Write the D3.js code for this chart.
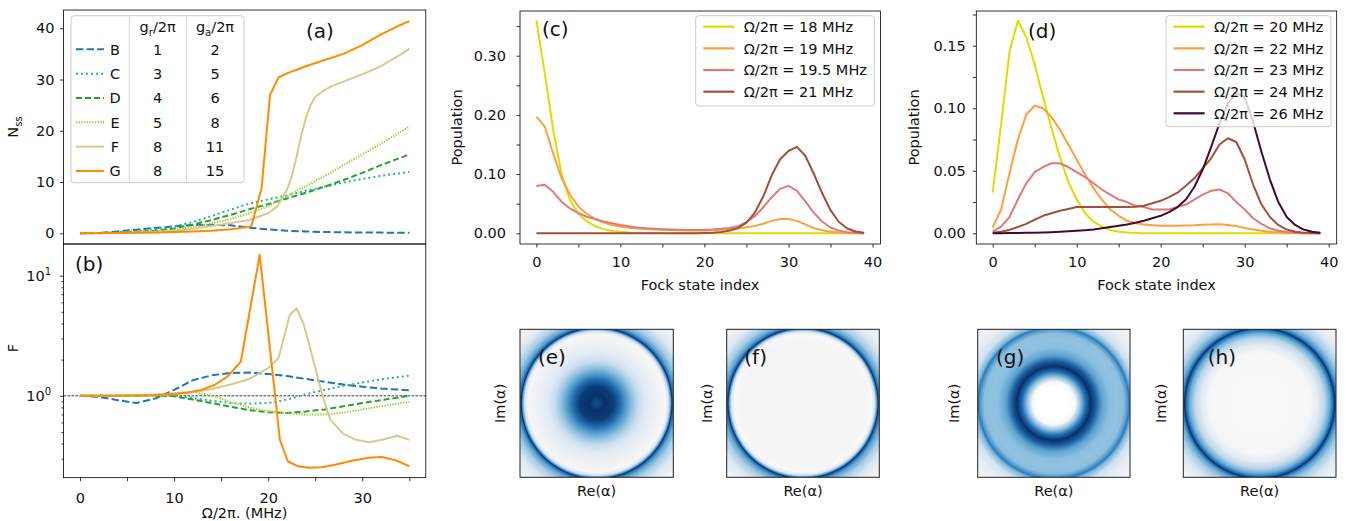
<!DOCTYPE html>
<html>
<head>
<meta charset="utf-8">
<script src="https://cdn.jsdelivr.net/npm/d3@7"></script>
<style>
    body { margin: 0; background: #fff; }
    svg { font-family: "DejaVu Sans", sans-serif; }
</style>
</head>
<body>
<svg id="fig" width="1346" height="521"></svg>
<script>
(function () {
    'use strict';

    // ---- data -------------------------------------------------------
    const seriesNames = ['B', 'C', 'D', 'E', 'F', 'G'];
    const grValues = [1, 3, 4, 5, 8, 8];
    const gaValues = [2, 5, 6, 8, 11, 15];

    // shared drive grid for B..E
    const omegaGrid = [0, 2, 4, 6, 8, 10, 12, 14, 16, 18, 20, 22, 24, 26, 28, 30, 32, 35];

    const nssB = [0, 0.08, 0.35, 0.7, 1.05, 1.35, 1.6, 1.65, 1.55, 1.1, 0.75, 0.5, 0.35, 0.25, 0.2, 0.15, 0.13, 0.12];
    const nssC = [0, 0.05, 0.15, 0.4, 0.8, 1.35, 2.2, 3.4, 4.6, 5.8, 6.6, 7.4, 8.3, 9.1, 9.9, 10.6, 11.2, 12.0];
    const nssD = [0, 0.03, 0.1, 0.25, 0.5, 0.95, 1.7, 2.6, 3.6, 4.7, 5.7, 6.8, 7.9, 9.1, 10.4, 11.8, 13.3, 15.4];
    const nssE = [0, 0.02, 0.06, 0.15, 0.35, 0.7, 1.2, 1.9, 2.8, 3.9, 5.3, 7.2, 9.2, 11.2, 13.3, 15.4, 17.5, 20.8];
    const omegaNssF = [0, 4, 8, 10, 12, 14, 16, 18, 20, 21, 22, 22.5, 23, 23.5, 24, 24.5, 25, 26, 27, 28, 30, 32, 34, 35];
    const nssF = [0, 0.05, 0.25, 0.5, 0.9, 1.4, 2.0, 2.6, 3.9, 5.3, 8.5, 11.0, 14.8, 19.0, 22.5, 25.0, 26.6, 28.0, 28.9, 29.6, 31.0, 32.6, 34.8, 36.0];
    const omegaNssG = [0, 4, 8, 10, 12, 14, 16, 17, 18.2, 19.3, 20.2, 21.1, 22, 24, 26, 28, 30, 32, 34, 35];
    const nssG = [0.05, 0.08, 0.15, 0.25, 0.35, 0.5, 0.8, 1.05, 1.35, 8.8, 27.0, 30.4, 31.2, 32.6, 33.8, 35.0, 36.7, 38.8, 40.6, 41.4];

    const fanoB = [1.0, 0.98, 0.92, 0.87, 0.95, 1.12, 1.35, 1.48, 1.55, 1.56, 1.52, 1.46, 1.38, 1.31, 1.24, 1.19, 1.15, 1.11];
    const fanoC = [1, 1, 1, 1.01, 1.01, 1.0, 0.96, 0.91, 0.87, 0.86, 0.87, 0.93, 1.03, 1.12, 1.21, 1.29, 1.37, 1.47];
    const fanoD = [1, 1, 1, 1, 1.01, 0.99, 0.93, 0.87, 0.81, 0.76, 0.73, 0.72, 0.74, 0.77, 0.82, 0.87, 0.92, 1.0];
    const fanoE = [1, 1, 1, 1.01, 1.03, 1.05, 1.07, 1.01, 0.89, 0.8, 0.745, 0.715, 0.70, 0.70, 0.725, 0.77, 0.82, 0.89];
    const omegaFanoF = [0, 4, 8, 10, 12, 14, 16, 18, 20, 21.1, 22.3, 23, 23.75, 24.6, 25.7, 26.6, 27.9, 29.3, 30.7, 32.1, 33.7, 35];
    const fanoF = [1, 1, 1.01, 1.03, 1.07, 1.14, 1.24, 1.38, 1.70, 2.06, 4.7, 5.35, 4.0, 2.26, 1.05, 0.63, 0.49, 0.43, 0.41, 0.43, 0.465, 0.43];
    const omegaFanoG = [0, 4, 8, 10, 11.4, 12.9, 14.3, 15.7, 17.1, 19.1, 21.25, 22.1, 23.2, 24.3, 25.7, 27.1, 28.9, 30.7, 32.1, 33.6, 35];
    const fanoG = [1, 1, 1.01, 1.04, 1.065, 1.12, 1.23, 1.45, 1.93, 14.9, 0.43, 0.284, 0.259, 0.252, 0.254, 0.267, 0.288, 0.305, 0.309, 0.29, 0.259];

    const fockIndex = d3.range(40);

    const omegaC = [18, 19, 19.5, 21];
    const popC18 = [0.360, 0.270, 0.175, 0.100, 0.056, 0.033, 0.020, 0.012, 0.007, 0.004,
        0.0025, 0.0015, 0.0009, 0.0006, 0.0004, 0.0003, 0.0002, 0.0001, 0.0001, 0.0001,
        0, 0, 0, 0, 0, 0, 0, 0, 0, 0,
        0, 0, 0, 0, 0, 0, 0, 0, 0, 0];
    const popC19 = [0.197, 0.180, 0.135, 0.093, 0.065, 0.045, 0.033, 0.024, 0.018, 0.014,
        0.011, 0.0095, 0.0082, 0.0072, 0.0065, 0.0060, 0.0055, 0.0050, 0.0048, 0.0047,
        0.0048, 0.0052, 0.0058, 0.0068, 0.0082, 0.0100, 0.0125, 0.016, 0.021, 0.024,
        0.024, 0.021, 0.015, 0.009, 0.005, 0.0025, 0.0012, 0.0005, 0.0002, 0.0001];
    const popC195 = [0.080, 0.082, 0.070, 0.053, 0.042, 0.034, 0.028, 0.024, 0.020, 0.017,
        0.014, 0.012, 0.0098, 0.0085, 0.0075, 0.0068, 0.0062, 0.0058, 0.0056, 0.0056,
        0.0058, 0.0064, 0.0075, 0.0090, 0.012, 0.019, 0.029, 0.044, 0.061, 0.075,
        0.080, 0.072, 0.054, 0.035, 0.020, 0.0098, 0.0045, 0.0018, 0.0007, 0.0002];
    const popC21 = [0, 0, 0, 0, 0, 0, 0, 0, 0, 0,
        0, 0, 0, 0, 0, 0, 0, 0, 0, 0,
        0.0005, 0.001, 0.002, 0.0045, 0.009, 0.018, 0.035, 0.062, 0.098, 0.125,
        0.139, 0.146, 0.131, 0.101, 0.068, 0.039, 0.019, 0.008, 0.003, 0.001];

    const omegaD = [20, 22, 23, 24, 26];
    const popD20 = [0.0325, 0.087, 0.145, 0.170, 0.157, 0.135, 0.109, 0.084, 0.061, 0.041,
        0.027, 0.016, 0.0093, 0.0053, 0.0027, 0.0013, 0.0006, 0.0003, 0.0001, 0.0001,
        0, 0, 0, 0, 0, 0, 0, 0, 0, 0,
        0, 0, 0, 0, 0, 0, 0, 0, 0, 0];
    const popD22 = [0.0045, 0.019, 0.048, 0.075, 0.095, 0.102, 0.100, 0.093, 0.083, 0.071,
        0.059, 0.047, 0.036, 0.027, 0.019, 0.014, 0.010, 0.008, 0.007, 0.0065,
        0.006, 0.006, 0.006, 0.0062, 0.0064, 0.0068, 0.0070, 0.0072, 0.0067, 0.0058,
        0.0043, 0.003, 0.002, 0.0012, 0.0007, 0.0004, 0.0002, 0.0001, 0.0001, 0];
    const popD23 = [0.0013, 0.0053, 0.013, 0.027, 0.040, 0.049, 0.053, 0.056, 0.056, 0.053,
        0.049, 0.045, 0.040, 0.035, 0.031, 0.027, 0.025, 0.022, 0.021, 0.019,
        0.019, 0.019, 0.021, 0.023, 0.027, 0.031, 0.034, 0.035, 0.032, 0.025,
        0.019, 0.012, 0.0075, 0.004, 0.002, 0.001, 0.0005, 0.0002, 0.0001, 0];
    const popD24 = [0.0005, 0.0012, 0.0027, 0.005, 0.0075, 0.011, 0.014, 0.016, 0.018, 0.0195,
        0.021, 0.021, 0.021, 0.021, 0.021, 0.021, 0.021, 0.0212, 0.022, 0.024,
        0.026, 0.029, 0.0325, 0.038, 0.044, 0.052, 0.060, 0.071, 0.076, 0.073,
        0.059, 0.039, 0.023, 0.013, 0.0067, 0.003, 0.0013, 0.0005, 0.0002, 0];
    const popD26 = [0, 0.0001, 0.0002, 0.0003, 0.0004, 0.0005, 0.0007, 0.0009, 0.0012, 0.0016,
        0.002, 0.0025, 0.003, 0.004, 0.005, 0.006, 0.007, 0.0085, 0.010, 0.012,
        0.014, 0.017, 0.021, 0.027, 0.037, 0.051, 0.069, 0.088, 0.104, 0.112,
        0.109, 0.089, 0.065, 0.043, 0.025, 0.013, 0.0067, 0.003, 0.0012, 0.0004];

    // radial profiles of the phase-space maps (radius in |alpha|, value)
    const radiusE = [0, 0.6, 1.3, 1.8, 2.3, 2.8, 3.3, 3.8, 4.3, 4.8, 5.2, 5.4, 5.65, 5.8, 5.9, 5.98, 6.2, 6.6, 7.2, 7.8, 8.6];
    const wignerE = [0.85, 1.0, 0.95, 0.75, 0.5, 0.3, 0.17, 0.09, 0.05, 0.02, 0.0, -0.05, 0.15, 0.5, 1.0, 0.75, 0.45, 0.25, 0.1, 0.03, 0];
    const radiusF = [0, 4.0, 5.0, 5.4, 5.65, 5.8, 5.9, 5.98, 6.2, 6.6, 7.2, 7.8, 8.6];
    const wignerF = [0, 0, 0.0, -0.08, 0.12, 0.5, 1.0, 0.75, 0.45, 0.25, 0.1, 0.03, 0];
    const radiusG = [0, 1.2, 1.7, 2.1, 2.5, 2.9, 3.3, 3.8, 4.4, 5.0, 5.5, 5.8, 5.95, 6.15, 6.6, 7.3, 8.6];
    const wignerG = [-0.3, -0.3, -0.05, 0.3, 0.7, 1.0, 0.8, 0.45, 0.32, 0.3, 0.32, 0.5, 0.65, 0.35, 0.15, 0.05, 0];
    const radiusH = [0, 3.0, 4.0, 4.6, 5.1, 5.5, 5.75, 5.9, 5.98, 6.2, 6.6, 7.2, 7.8, 8.6];
    const wignerH = [-0.15, -0.1, -0.02, 0.08, 0.2, 0.4, 0.7, 1.0, 0.75, 0.45, 0.25, 0.1, 0.03, 0];

    const fockTicks = [0, 5, 10, 15, 20, 25, 30, 35, 40];
    const omegaTicks = [0, 5, 10, 15, 20, 25, 30, 35];

    // ---- helpers ----------------------------------------------------
    const svg = d3.select('#fig');
    const FONT = 'DejaVu Sans';
    const TXT = '#111';

    function frame(b) {
        svg.append('rect')
            .attr('x', b.left).attr('y', b.top)
            .attr('width', b.right - b.left).attr('height', b.bottom - b.top)
            .attr('fill', 'none').attr('stroke', '#000').attr('stroke-width', 0.8);
    }

    function styleAxis(g) {
        g.select('.domain').remove();
        g.selectAll('line').attr('stroke', '#000').attr('stroke-width', 0.8);
        g.selectAll('text').attr('font-family', FONT).attr('font-size', 14.5).attr('fill', TXT);
    }

    function xAxis(x, b, ticks, labelEvery, pad) {
        const g = svg.append('g').attr('transform', `translate(0, ${b.bottom})`)
            .call(d3.axisBottom(x).tickValues(ticks).tickSize(3.5).tickPadding(pad)
                .tickFormat((d) => d % labelEvery === 0 ? d : ''));
        styleAxis(g);
    }

    function yAxis(y, b, ticks, fmt, pad) {
        const g = svg.append('g').attr('transform', `translate(${b.left}, 0)`)
            .call(d3.axisLeft(y).tickValues(ticks).tickSize(3.5).tickPadding(pad).tickFormat(fmt));
        styleAxis(g);
    }

    function label(txt, x, y, size, rotate) {
        const t = svg.append('text')
            .attr('font-family', FONT).attr('font-size', size).attr('fill', TXT)
            .text(txt);
        if (rotate) {
            t.attr('text-anchor', 'middle').attr('transform', `translate(${x}, ${y}) rotate(-90)`);
        } else {
            t.attr('x', x).attr('y', y);
        }
        return t;
    }

    function curve(x, y, xs, ys, st) {
        const pts = xs.map((d, i) => [d, ys[i]]);
        svg.append('path')
            .datum(pts)
            .attr('fill', 'none')
            .attr('stroke', st.color)
            .attr('stroke-width', st.width || 2)
            .attr('stroke-dasharray', st.dash || null)
            .attr('stroke-linejoin', 'round')
            .attr('d', d3.line().x((d) => x(d[0])).y((d) => y(d[1])));
    }

    // ---- panel (a) --------------------------------------------------
    const boxA = { left: 63.5, right: 425.8, top: 10, bottom: 244 };
    const xA = d3.scaleLinear().domain([-1.75, 36.75]).range([boxA.left, boxA.right]);
    const yA = d3.scaleLinear().domain([-2.09, 43.57]).range([boxA.bottom, boxA.top]);

    const styles = {
        B: { color: '#1f77b4', dash: '7.4,3.2' },
        C: { color: '#26b39a', dash: '2,3' },
        D: { color: '#2ca02c', dash: '6,3' },
        E: { color: '#9acd32', dash: '1.3,1.4' },
        F: { color: '#d9c98a' },
        G: { color: '#ff8c00' }
    };

    curve(xA, yA, omegaGrid, nssB, styles.B);
    curve(xA, yA, omegaGrid, nssC, styles.C);
    curve(xA, yA, omegaGrid, nssD, styles.D);
    curve(xA, yA, omegaGrid, nssE, styles.E);
    curve(xA, yA, omegaNssF, nssF, styles.F);
    curve(xA, yA, omegaNssG, nssG, styles.G);
    frame(boxA);
    yAxis(yA, boxA, [0, 10, 20, 30, 40], (d) => d, 5.5);

    const nLabel = label('N', 18, 127, 14.5, true);
    nLabel.text('N');
    nLabel.append('tspan').attr('dy', 4).attr('font-size', 10).text('ss');

    // legend table
    const tab = svg.append('g');
    tab.append('rect').attr('x', 71).attr('y', 15.7).attr('width', 173).attr('height', 167)
        .attr('rx', 3).attr('fill', '#fff').attr('fill-opacity', 0.8)
        .attr('stroke', '#cccccc').attr('stroke-width', 1);
    [129.3, 186.3].forEach((xv) => {
        tab.append('line').attr('x1', xv).attr('x2', xv).attr('y1', 15.7).attr('y2', 182.7)
            .attr('stroke', '#d6d6d6').attr('stroke-width', 1);
    });
    function header(x, sub) {
        const t = tab.append('text').attr('x', x).attr('y', 32).attr('text-anchor', 'middle')
            .attr('font-family', FONT).attr('font-size', 14.5).attr('fill', TXT);
        t.append('tspan').text('g');
        t.append('tspan').attr('dy', 4).attr('font-size', 10).text(sub);
        t.append('tspan').attr('dy', -4).text('/2π');
    }
    header(157.7, 'r');
    header(215, 'a');
    const rowY = d3.scaleLinear().domain([0, 5]).range([49.3, 171]);
    seriesNames.forEach((name, i) => {
        const st = styles[name];
        const yy = rowY(i);
        tab.append('line').attr('x1', 76).attr('x2', 104).attr('y1', yy).attr('y2', yy)
            .attr('stroke', st.color).attr('stroke-width', 2)
            .attr('stroke-dasharray', st.dash || null);
        [[115, name], [157.7, grValues[i]], [215, gaValues[i]]].forEach((c) => {
            tab.append('text').attr('x', c[0]).attr('y', yy + 5.3).attr('text-anchor', 'middle')
                .attr('font-family', FONT).attr('font-size', 14.5).attr('fill', TXT).text(c[1]);
        });
    });
    label('(a)', 306, 37.5, 20);

    // ---- panel (b) --------------------------------------------------
    const boxB = { left: 63.5, right: 425.8, top: 244, bottom: 477.7 };
    const xB = xA.copy().range([boxB.left, boxB.right]);
    const yB = d3.scaleLog().domain([0.2081, 18.34]).range([boxB.bottom, boxB.top]);

    svg.append('line').attr('x1', boxB.left).attr('x2', boxB.right)
        .attr('y1', yB(1)).attr('y2', yB(1))
        .attr('stroke', '#000').attr('stroke-width', 0.8).attr('stroke-dasharray', '2.5,1.5');

    curve(xB, yB, omegaGrid, fanoB, styles.B);
    curve(xB, yB, omegaGrid, fanoC, styles.C);
    curve(xB, yB, omegaGrid, fanoD, styles.D);
    curve(xB, yB, omegaGrid, fanoE, styles.E);
    curve(xB, yB, omegaFanoF, fanoF, styles.F);
    curve(xB, yB, omegaFanoG, fanoG, styles.G);
    frame(boxB);
    xAxis(xB, boxB, omegaTicks, 10, 12);

    const minorLog = [0.3, 0.4, 0.5, 0.6, 0.7, 0.8, 0.9, 2, 3, 4, 5, 6, 7, 8, 9];
    const gMinor = svg.append('g').attr('transform', `translate(${boxB.left}, 0)`)
        .call(d3.axisLeft(yB).tickValues(minorLog).tickSize(2).tickFormat(''));
    styleAxis(gMinor);
    const gMajor = svg.append('g').attr('transform', `translate(${boxB.left}, 0)`)
        .call(d3.axisLeft(yB).tickValues([1, 10]).tickSize(3.5).tickPadding(9).tickFormat(''));
    styleAxis(gMajor);
    gMajor.selectAll('.tick text').each(function (d) {
        const t = d3.select(this);
        t.append('tspan').text('10');
        t.append('tspan').attr('dy', '-0.55em').attr('font-size', 10).text(Math.round(Math.log10(d)));
    });

    label('F', 18, 348, 14.5, true);
    label('(b)', 75, 270.5, 20);
    label('Ω/2π. (MHz)', 244.6, 517.5, 14.5).attr('text-anchor', 'middle');

    // ---- panel (c) --------------------------------------------------
    const boxC = { left: 520, right: 880.5, top: 11, bottom: 244 };
    const xC = d3.scaleLinear().domain([-1.95, 40.95]).range([boxC.left, boxC.right]);
    const yC = d3.scaleLinear().domain([-0.0181, 0.3755]).range([boxC.bottom, boxC.top]);
    const popColors = ['#e0dc00', '#ffa040', '#de7b78', '#a0513c', '#45092b'];

    [popC18, popC19, popC195, popC21].forEach((p, i) => {
        curve(xC, yC, fockIndex, p, { color: popColors[i] });
    });
    frame(boxC);
    xAxis(xC, boxC, fockTicks, 10, 9.5);
    yAxis(yC, boxC, [0, 0.05, 0.1, 0.15, 0.2, 0.25, 0.3, 0.35],
        (d) => Math.round(d * 100) % 10 === 0 ? d3.format('.2f')(d) : '', 10.5);
    label('Population', 462, 127.5, 14.5, true);
    label('Fock state index', 700, 290, 14.5).attr('text-anchor', 'middle');
    label('(c)', 542, 35.5, 20);

    function legend(x0, y0, w, h, rows, labels) {
        const g = svg.append('g');
        g.append('rect').attr('x', x0).attr('y', y0).attr('width', w).attr('height', h)
            .attr('rx', 3).attr('fill', '#fff').attr('fill-opacity', 0.8)
            .attr('stroke', '#cccccc').attr('stroke-width', 1);
        labels.forEach((v, i) => {
            const yy = rows(i);
            g.append('line').attr('x1', x0 + 7.6).attr('x2', x0 + 38.6).attr('y1', yy).attr('y2', yy)
                .attr('stroke', popColors[i]).attr('stroke-width', 2.2);
            g.append('text').attr('x', x0 + 48).attr('y', yy + 5.2)
                .attr('font-family', FONT).attr('font-size', 14.5).attr('fill', TXT)
                .text(`Ω/2π = ${v} MHz`);
        });
    }
    legend(695.7, 15.7, 178.6, 90.3, d3.scaleLinear().domain([0, 3]).range([26.7, 91.7]), omegaC);

    // ---- panel (d) --------------------------------------------------
    const boxD = { left: 976.3, right: 1336.7, top: 11, bottom: 244 };
    const xD = d3.scaleLinear().domain([-1.95, 40.95]).range([boxD.left, boxD.right]);
    const yD = d3.scaleLinear().domain([-0.00856, 0.1778]).range([boxD.bottom, boxD.top]);

    [popD20, popD22, popD23, popD24, popD26].forEach((p, i) => {
        curve(xD, yD, fockIndex, p, { color: popColors[i] });
    });
    frame(boxD);
    xAxis(xD, boxD, fockTicks, 10, 9.5);
    yAxis(yD, boxD, [0, 0.025, 0.05, 0.075, 0.1, 0.125, 0.15, 0.175],
        (d) => Math.round(d * 1000) % 50 === 0 ? d3.format('.2f')(d) : '', 7);
    label('Population', 919, 127.5, 14.5, true);
    label('Fock state index', 1156.5, 290, 14.5).attr('text-anchor', 'middle');
    label('(d)', 1028, 37.5, 20);
    legend(1166, 15.7, 165, 111, d3.scaleLinear().domain([0, 4]).range([26.7, 113.3]), omegaD);

    // ---- panels (e)-(h) ---------------------------------------------
    const wColor = d3.scaleLinear()
        .domain([-0.3, 0, 0.15, 0.4, 0.7, 1])
        .range(['#ffffff', '#f5f5f5', '#d0e1f2', '#6aaed6', '#2171b5', '#08306b'])
        .clamp(true);
    const defs = svg.append('defs');

    const maps = [
        { id: 'e', left: 520, right: 673.3, r: radiusE, v: wignerE, imX: 505, labX: 538 },
        { id: 'f', left: 726.7, right: 879.3, r: radiusF, v: wignerF, imX: 712, labX: 744.3 },
        { id: 'g', left: 977.7, right: 1130, r: radiusG, v: wignerG, imX: 959, labX: 996 },
        { id: 'h', left: 1183.3, right: 1336, r: radiusH, v: wignerH, imX: 1166, labX: 1207.7 }
    ];
    const mapTop = 329.3;
    const mapBottom = 477.3;

    maps.forEach((m) => {
        const xs = d3.scaleLinear().domain([-6, 6]).range([m.left, m.right]);
        const ys = d3.scaleLinear().domain([-6, 6]).range([mapBottom, mapTop]);
        const rMax = d3.max(m.r);
        const grad = defs.append('radialGradient')
            .attr('id', 'w' + m.id)
            .attr('gradientUnits', 'userSpaceOnUse')
            .attr('cx', xs(0)).attr('cy', ys(0))
            .attr('r', xs(rMax) - xs(0));
        m.r.forEach((rr, i) => {
            grad.append('stop').attr('offset', rr / rMax).attr('stop-color', wColor(m.v[i]));
        });
        svg.append('rect')
            .attr('x', m.left).attr('y', mapTop)
            .attr('width', m.right - m.left).attr('height', mapBottom - mapTop)
            .attr('fill', `url(#w${m.id})`)
            .attr('stroke', '#222').attr('stroke-width', 1);
        label('Im(α)', m.imX, (mapTop + mapBottom) / 2, 14.5, true);
        label('Re(α)', (m.left + m.right) / 2, 496, 14.5).attr('text-anchor', 'middle');
        label(`(${m.id})`, m.labX, 364, 20);
    });
})();
</script>
</body>
</html>
